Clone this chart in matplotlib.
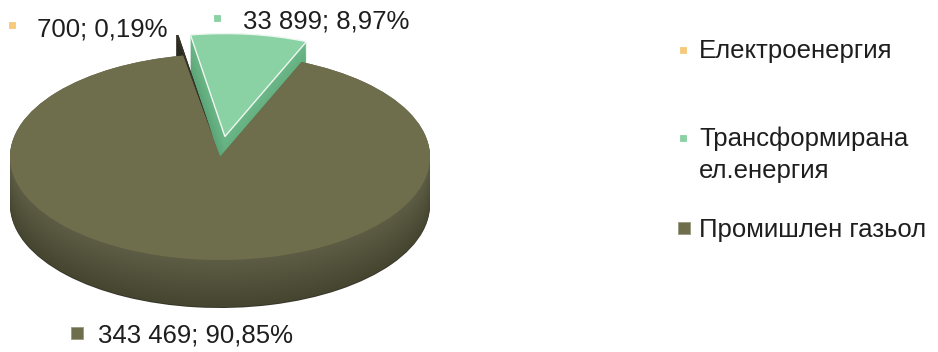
import numpy as np
import matplotlib
matplotlib.use("Agg")
import matplotlib.pyplot as plt
from matplotlib.colors import to_rgb

plt.rcParams['font.family'] = ['Liberation Sans', 'DejaVu Sans']

# данни
categories = ['Електроенергия', 'Трансформирана\nел.енергия', 'Промишлен газьол']
values = [700, 33899, 343469]
value_labels = ['700', '33 899', '343 469']
pct_labels = ['0,19%', '8,97%', '90,85%']
explode = [0.2, 0.2, 0.0]

colors = ['#f6c97c', '#8ad1a4', '#6f6e4c']
top_colors = ['#34342a', '#8ad1a4', '#6f6e4c']   # тънкият резен изглежда тъмен
side_top = ['#2c2c22', '#6cb888', '#5d5c44']
side_bottom = ['#222219', '#579e72', '#45442f']
marker_sizes = [4.5, 4.5, 8]

W, H = 938, 352
fig = plt.figure(figsize=(W / 100, H / 100), dpi=100)
ax = fig.add_axes([0, 0, 1, 1])

start = 90 + 10.1      # first slice begins a bit left of 12 o'clock
depth = 48 / 103
n = 48


def mix(c1, c2, t):
    a, b = np.array(to_rgb(c1)), np.array(to_rgb(c2))
    return tuple(a * (1 - t) + b * t)


# side walls: stacked pies from bottom to top
for i in range(n):
    t = i / (n - 1)
    z = -depth * (1 - t)
    cols = [mix(side_bottom[k], side_top[k], t) for k in range(3)]
    if i == 0:
        cols = ['#36362a'] * 3
    ax.pie(values, startangle=start, counterclock=False, explode=explode,
           colors=cols, center=(0, z), radius=1,
           wedgeprops=dict(linewidth=0, antialiased=True))

# top face
wedges, _ = ax.pie(values, startangle=start, counterclock=False, explode=explode,
                   colors=top_colors, center=(0, 0), radius=1,
                   wedgeprops=dict(linewidth=0))
wedges[1].set_edgecolor('#eef8f1')
wedges[1].set_linewidth(1.0)

ax.set_aspect('auto')
ax.set_xlim(-220 / 210, (W - 220) / 210)
ax.set_ylim(-(H - 157) / 103, 157 / 103)
ax.axis('off')


def px(x, y):
    return x / W, 1 - y / H


FS = 18.5
TXT = '#1e1e1e'

# data labels (marker + text)
label_pos = [(37, 37, 12, 25), (243, 28, 217, 18), (98, 343, 77, 333)]
for k, (tx, ty, mx, my) in enumerate(label_pos):
    fig.text(*px(tx, ty), f'{value_labels[k]}; {pct_labels[k]}', fontsize=FS,
             color=TXT, ha='left', va='baseline')
    ax.plot(*px(mx, my), marker='s', ms=marker_sizes[k], color=colors[k],
            mec='#9a9a80' if k == 2 else colors[k], mew=0.6,
            transform=fig.transFigure, clip_on=False)

# legend
leg_pos = [(699, 58, 683, 50), (699, 146, 683, 138), (699, 237, 684, 228)]
for k, (tx, ty, mx, my) in enumerate(leg_pos):
    for j, line in enumerate(categories[k].split('\n')):
        fig.text(*px(tx, ty + 32 * j), line, fontsize=FS, color=TXT,
                 ha='left', va='baseline')
    ax.plot(*px(mx, my), marker='s', ms=marker_sizes[k] + (1 if k == 2 else 0),
            color=colors[k], mec='#9a9a80' if k == 2 else colors[k], mew=0.6,
            transform=fig.transFigure, clip_on=False)

fig.savefig('out.png', dpi=100)
